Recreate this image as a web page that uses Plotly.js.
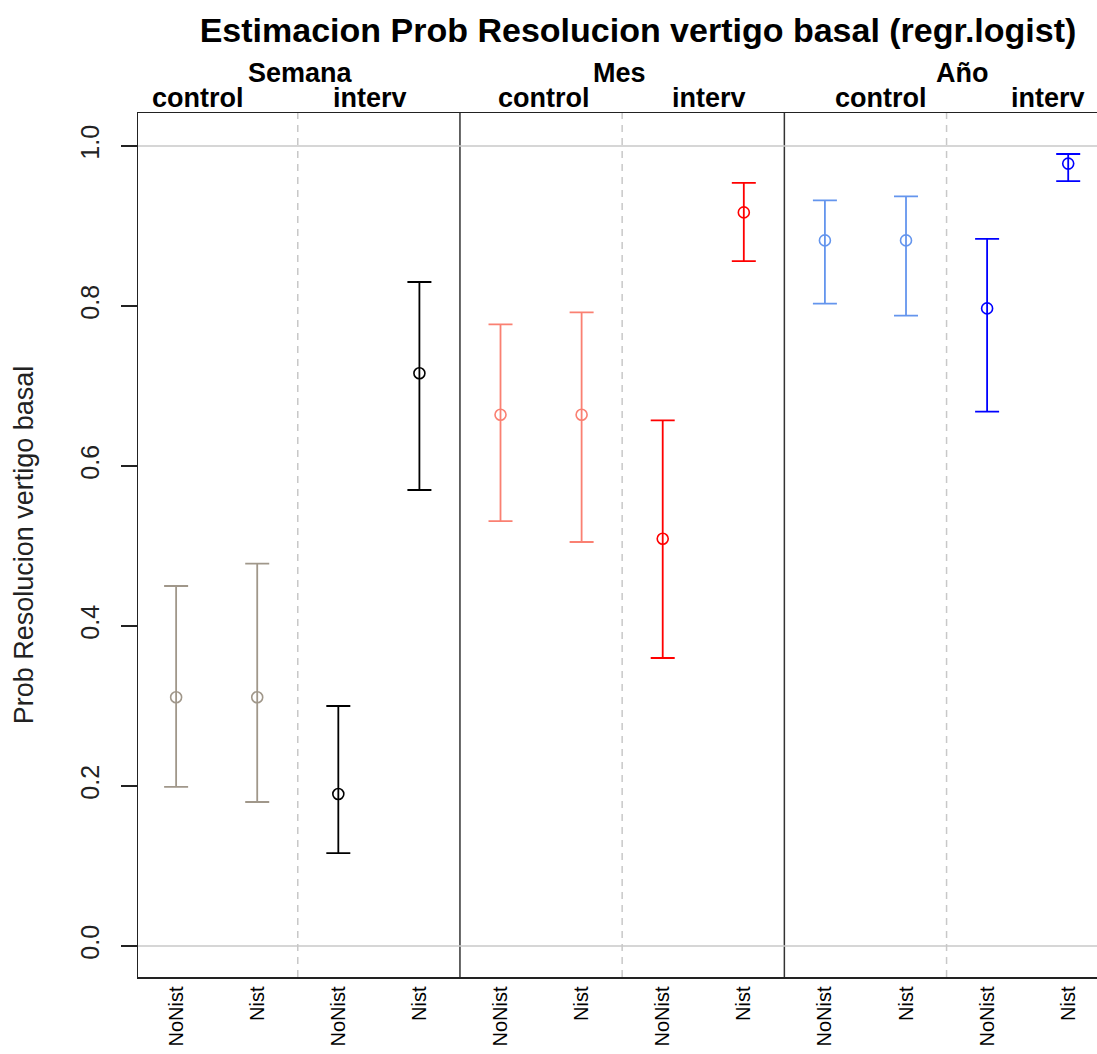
<!DOCTYPE html>
<html>
<head>
<meta charset="utf-8">
<script src="https://cdn.plot.ly/plotly-3.0.1.min.js"></script>
<style>
html,body{margin:0;padding:0;overflow:hidden;background:#fff;}
#chart{width:1097px;height:1054px;}
</style>
</head>
<body>
<div id="chart"></div>
<script>
// ---- data ----
const periods = ["Semana", "Mes", "Año"];
const groups = ["control", "interv"];
const categories = ["NoNist", "Nist", "NoNist", "Nist", "NoNist", "Nist", "NoNist", "Nist", "NoNist", "Nist", "NoNist", "Nist"];
const estimate = [0.311, 0.311, 0.190, 0.716, 0.664, 0.664, 0.509, 0.917, 0.882, 0.882, 0.797, 0.978];
const lower    = [0.199, 0.180, 0.116, 0.570, 0.531, 0.505, 0.360, 0.856, 0.803, 0.788, 0.668, 0.956];
const upper    = [0.450, 0.478, 0.300, 0.830, 0.777, 0.792, 0.657, 0.954, 0.932, 0.937, 0.884, 0.990];
const groupColors = ["#a0978a", "#000000", "#fa8072", "#ff0000", "#6495ed", "#0000ff"];
const yTicks = [0, 0.2, 0.4, 0.6, 0.8, 1.0];
const yTickText = ["0.0", "0.2", "0.4", "0.6", "0.8", "1.0"];

const perGroup = 2;
const xs = categories.map((_, i) => i + 1);

const traces = [];
for (let g = 0; g < periods.length * groups.length; g++) {
  const idx = [];
  for (let k = 0; k < perGroup; k++) idx.push(g * perGroup + k);
  traces.push({
    type: "scatter",
    mode: "markers",
    x: idx.map(i => xs[i]),
    y: idx.map(i => estimate[i]),
    marker: {symbol: "circle-open", size: 11, color: groupColors[g], line: {width: 1.6, color: groupColors[g]}},
    error_y: {
      type: "data", symmetric: false,
      array: idx.map(i => upper[i] - estimate[i]),
      arrayminus: idx.map(i => estimate[i] - lower[i]),
      color: groupColors[g], thickness: 1.8, width: 12
    },
    showlegend: false,
    hoverinfo: "x+y"
  });
}

const shapes = [];
// separators: dashed between groups, solid between periods
for (let b = 1; b < periods.length * groups.length; b++) {
  const xb = b * perGroup + 0.5;
  const solid = (b % groups.length === 0);
  shapes.push({
    type: "line", xref: "x", yref: "paper", x0: xb, x1: xb, y0: 0, y1: 1,
    line: solid ? {color: "#333333", width: 1.5} : {color: "#c8c8c8", width: 1.5, dash: "7px,6px"},
    layer: "below"
  });
}
// reference lines at 0 and 1
[0, 1].forEach(v => shapes.push({
  type: "line", xref: "paper", yref: "y", x0: 0, x1: 1, y0: v, y1: v,
  line: {color: "#c8c8c8", width: 1.5}, layer: "below"
}));

const annotations = [];
const periodLabelX = [2.53, 6.47, 10.69];
const groupLabelX = [[1.27, 3.39], [5.54, 7.57], [9.69, 11.75]];
const labelFont = {family: "Liberation Sans, Arial, sans-serif", size: 27, color: "#000"};
periods.forEach((p, pi) => {
  annotations.push({
    text: "<b>" + p + "</b>", xref: "x", yref: "paper", x: periodLabelX[pi], y: 1.0,
    yshift: 40, xanchor: "center", yanchor: "middle", showarrow: false, font: labelFont
  });
  groups.forEach((g, gi) => {
    annotations.push({
      text: "<b>" + g + "</b>", xref: "x", yref: "paper", x: groupLabelX[pi][gi], y: 1.0,
      yshift: 15, xanchor: "center", yanchor: "middle", showarrow: false, font: labelFont
    });
  });
});

const layout = {
  width: 1097, height: 1054,
  paper_bgcolor: "#ffffff", plot_bgcolor: "#ffffff",
  margin: {l: 138, r: 0, t: 113, b: 77},
  title: {
    text: "<b>Estimacion Prob Resolucion vertigo basal (regr.logist)</b>",
    xref: "container", x: 0.5816, xanchor: "center",
    yref: "container", y: 0.9715, yanchor: "middle",
    font: {family: "Liberation Sans, Arial, sans-serif", size: 34, color: "#000"}
  },
  xaxis: {
    range: [0.53, 12.355], tickmode: "array", tickvals: xs, ticktext: categories,
    tickangle: -90, ticks: "", showgrid: false, zeroline: false,
    showline: true, linecolor: "#222", linewidth: 1.5, mirror: true,
    tickfont: {family: "Liberation Sans, Arial, sans-serif", size: 20, color: "#000"},
    fixedrange: true
  },
  yaxis: {
    range: [-0.03875, 1.04125], tickmode: "array", tickvals: yTicks, ticktext: yTickText,
    tickangle: -90, ticks: "outside", ticklen: 16, tickwidth: 1.5, tickcolor: "#222",
    ticklabelstandoff: 12,
    showgrid: false, zeroline: false, showline: true, linecolor: "#222", linewidth: 1.5,
    mirror: false,
    tickfont: {family: "Liberation Sans, Arial, sans-serif", size: 25, color: "#222"},
    title: {text: "Prob Resolucion vertigo basal", standoff: 34,
      font: {family: "Liberation Sans, Arial, sans-serif", size: 27, color: "#222"}},
    fixedrange: true
  },
  shapes: shapes,
  annotations: annotations
};

Plotly.newPlot("chart", traces, layout, {displayModeBar: false, staticPlot: true});
</script>
</body>
</html>
